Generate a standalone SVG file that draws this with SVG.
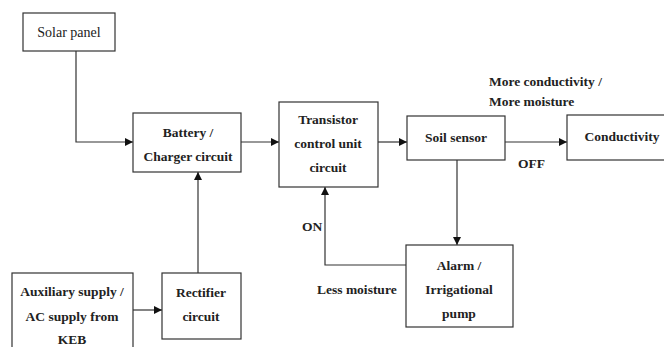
<svg xmlns="http://www.w3.org/2000/svg" width="664" height="347" viewBox="0 0 664 347">
<style>
.box{fill:#fff;stroke:#333;stroke-width:1.2}
.c{fill:none;stroke:#333;stroke-width:1.2}
</style>
<defs>
<marker id="ah" viewBox="0 0 10 10" refX="10" refY="5" markerWidth="8" markerHeight="8" markerUnits="userSpaceOnUse" orient="auto">
<path d="M0,0 L10,5 L0,10 z" fill="#111"/>
</marker>
</defs>
<rect width="664" height="347" fill="#fff"/>
<g id="connectors">
<polyline class="c" points="76,51 76,142 133,142" marker-end="url(#ah)"/>
<line class="c" x1="198" y1="273" x2="198" y2="172" marker-end="url(#ah)"/>
<line class="c" x1="133" y1="310" x2="162" y2="310" marker-end="url(#ah)"/>
<line class="c" x1="241" y1="142" x2="279" y2="142" marker-end="url(#ah)"/>
<line class="c" x1="378" y1="142" x2="407" y2="142" marker-end="url(#ah)"/>
<line class="c" x1="505" y1="142" x2="567" y2="142" marker-end="url(#ah)"/>
<line class="c" x1="457" y1="160" x2="457" y2="245" marker-end="url(#ah)"/>
<polyline class="c" points="406,265 325,265 325,187" marker-end="url(#ah)"/>
</g>
<g font-family="Liberation Serif, serif" font-size="13.5" font-weight="bold" fill="#222" text-anchor="middle">
<g id="solar">
<rect class="box" x="23" y="13" width="92" height="38"/>
<text x="69" y="37" font-size="14" font-weight="normal">Solar panel</text>
</g>
<g id="battery">
<rect class="box" x="133" y="113" width="108" height="59"/>
<text x="188" y="137">Battery /</text>
<text x="188" y="161">Charger circuit</text>
</g>
<g id="auxiliary">
<rect class="box" x="12" y="273" width="121" height="80"/>
<text x="72" y="296">Auxiliary supply /</text>
<text x="72" y="321">AC supply from</text>
<text x="72" y="344">KEB</text>
</g>
<g id="rectifier">
<rect class="box" x="162" y="273" width="79" height="66"/>
<text x="201" y="297">Rectifier</text>
<text x="201" y="321">circuit</text>
</g>
<g id="transistor">
<rect class="box" x="279" y="102" width="99" height="85"/>
<text x="328" y="124">Transistor</text>
<text x="328" y="148">control unit</text>
<text x="328" y="172">circuit</text>
</g>
<g id="soil">
<rect class="box" x="407" y="116" width="98" height="44"/>
<text x="456" y="142">Soil sensor</text>
</g>
<g id="conductivity">
<rect class="box" x="567" y="115" width="100" height="45"/>
<text x="622" y="141">Conductivity</text>
</g>
<g id="alarm">
<rect class="box" x="406" y="245" width="107" height="82"/>
<text x="459" y="270">Alarm /</text>
<text x="459" y="294">Irrigational</text>
<text x="459" y="318">pump</text>
</g>
<g id="labels" text-anchor="start">
<text x="489" y="86">More conductivity /</text>
<text x="489" y="106">More moisture</text>
<text x="518" y="168">OFF</text>
<text x="302" y="231">ON</text>
<text x="317" y="294">Less moisture</text>
</g>
</g>
</svg>
